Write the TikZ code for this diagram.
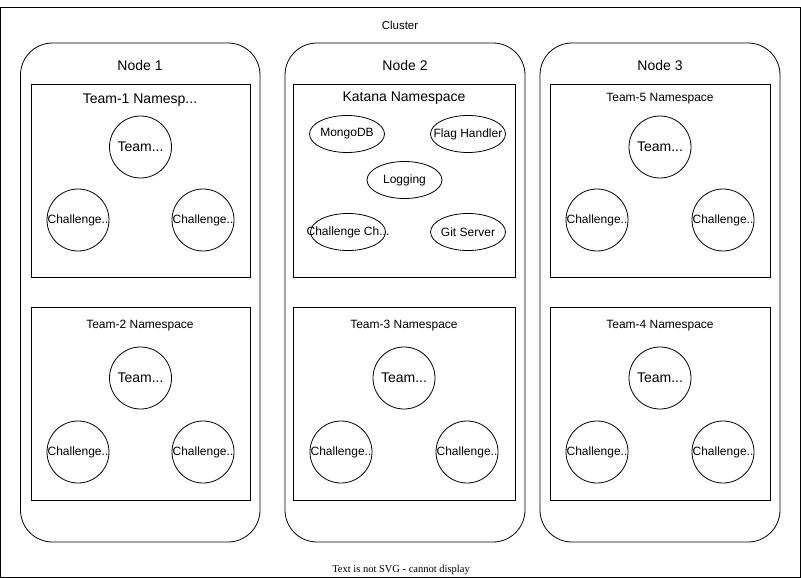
\documentclass[tikz,border=0pt]{standalone}
\usepackage{fontspec}
\setmainfont{Liberation Sans}
\newfontfamily\serifnote{Liberation Serif}
\usetikzlibrary{shapes.geometric}

\tikzset{
  knode/.style={draw,rounded corners=32pt},
  nsbox/.style={draw},
  pod/.style={draw,circle,minimum size=62pt,inner sep=0pt},
  svc/.style={draw,ellipse,minimum width=75pt,minimum height=37pt,inner sep=0pt},
  bigtxt/.style={font=\fontsize{14}{16}\selectfont},
  midtxt/.style={font=\fontsize{12}{14}\selectfont},
  smalltxt/.style={font=\fontsize{11.5}{13}\selectfont}
}

\begin{document}
\begin{tikzpicture}[x=1pt,y=-1pt,line width=0.8pt]
\useasboundingbox (0,0) rectangle (801,578);

% Cluster
\draw (0.5,7) rectangle (800,577);
\node[smalltxt] (cluster) at (400,25) {Cluster};

% Nodes
\draw[knode] (20.5,43) rectangle (260,542);
\node[bigtxt] (n1) at (140,65) {Node 1};
\draw[knode] (285,43) rectangle (525,542);
\node[bigtxt] (n2) at (405,65) {Node 2};
\draw[knode] (540,43) rectangle (780,542);
\node[bigtxt] (n3) at (660,65) {Node 3};

% Team-1 namespace
\draw[nsbox] (31,84.5) rectangle (250.5,277);
\node[bigtxt] (ns1) at (140,100) {Team-1 Namesp...};
\node[pod,bigtxt] (t1) at (140.5,147) {\makebox[0pt]{Team...}};
\node[pod,midtxt] (t1a) at (78,220) {\makebox[0pt]{Challenge..}};
\node[pod,midtxt] (t1b) at (203,220) {\makebox[0pt]{Challenge..}};

% Team-2 namespace
\draw[nsbox] (31,307.5) rectangle (250.5,500);
\node[midtxt] (ns2) at (140,326) {Team-2 Namespace};
\node[pod,bigtxt] (t2) at (140.5,378) {\makebox[0pt]{Team...}};
\node[pod,midtxt] (t2a) at (78,452) {\makebox[0pt]{Challenge..}};
\node[pod,midtxt] (t2b) at (203,452) {\makebox[0pt]{Challenge..}};

% Katana namespace
\draw[nsbox] (293.5,84.5) rectangle (515,277);
\node[bigtxt] (kns) at (404,98) {Katana Namespace};
\node[svc,midtxt] (mongo) at (347,134) {\makebox[0pt]{MongoDB}};
\node[svc,midtxt] (flag) at (468,134) {\makebox[0pt]{Flag Handler}};
\node[svc,midtxt] (logging) at (404.5,180) {\makebox[0pt]{Logging}};
\node[svc,midtxt] (checker) at (348,232) {\makebox[0pt]{Challenge Ch...}};
\node[svc,midtxt] (git) at (468,232) {\makebox[0pt]{Git Server}};

% Team-3 namespace
\draw[nsbox] (293.5,307.5) rectangle (515,500);
\node[midtxt] (ns3) at (404,326) {Team-3 Namespace};
\node[pod,bigtxt] (t3) at (404,378) {\makebox[0pt]{Team...}};
\node[pod,midtxt] (t3a) at (341,452) {\makebox[0pt]{Challenge..}};
\node[pod,midtxt] (t3b) at (467,452) {\makebox[0pt]{Challenge..}};

% Team-5 namespace
\draw[nsbox] (550.5,84.5) rectangle (770.5,277);
\node[midtxt] (ns5) at (660,99) {Team-5 Namespace};
\node[pod,bigtxt] (t5) at (660,147) {\makebox[0pt]{Team...}};
\node[pod,midtxt] (t5a) at (597,220) {\makebox[0pt]{Challenge..}};
\node[pod,midtxt] (t5b) at (723,220) {\makebox[0pt]{Challenge..}};

% Team-4 namespace
\draw[nsbox] (550.5,307.5) rectangle (770.5,500);
\node[midtxt] (ns4) at (660,326) {Team-4 Namespace};
\node[pod,bigtxt] (t4) at (660,378) {\makebox[0pt]{Team...}};
\node[pod,midtxt] (t4a) at (597,452) {\makebox[0pt]{Challenge..}};
\node[pod,midtxt] (t4b) at (723,452) {\makebox[0pt]{Challenge..}};

% Note
\node[font=\serifnote\fontsize{10.5}{12}\selectfont] (note) at (401,569.5) {Text is not SVG - cannot display};

\end{tikzpicture}
\end{document}
